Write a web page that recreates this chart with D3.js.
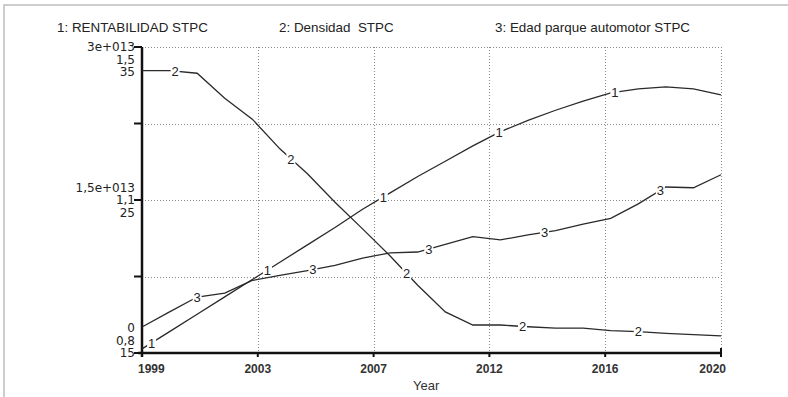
<!DOCTYPE html>
<html lang="en">
<head>
  <meta charset="utf-8" />
  <title>STPC</title>
  <script src="https://d3js.org/d3.v7.min.js"></script>
  <style>
    body { margin: 0; background: #fff; }
    text { font-family: "Liberation Sans", Arial, sans-serif; }
  </style>
</head>

<body>
  <div id="chart"></div>

  <script>
    // data
    var years = [1999, 2000, 2001, 2002, 2003, 2004, 2005, 2006, 2007, 2008, 2009,
                 2010, 2011, 2012, 2013, 2014, 2015, 2016, 2017, 2018, 2019, 2020];

    // 1: RENTABILIDAD STPC
    var rentabilidad = [0.04e13, 0.21e13, 0.38e13, 0.55e13, 0.72e13, 0.89e13, 1.06e13, 1.23e13,
                        1.41e13, 1.57e13, 1.73e13, 1.88e13, 2.03e13, 2.17e13, 2.28e13, 2.38e13,
                        2.47e13, 2.55e13, 2.59e13, 2.61e13, 2.59e13, 2.53e13];
    // 2: Densidad STPC
    var densidad = [1.446, 1.446, 1.44, 1.383, 1.335, 1.267, 1.21, 1.145, 1.084, 1.022, 0.955,
                    0.894, 0.864, 0.864, 0.860, 0.857, 0.857, 0.851, 0.849, 0.845, 0.842, 0.839];
    // 3: Edad parque automotor STPC
    var edad = [16.7, 17.69, 18.66, 18.92, 19.74, 20.07, 20.38, 20.72, 21.2, 21.55, 21.6,
                22.1, 22.6, 22.39, 22.72, 23.0, 23.43, 23.8, 24.75, 25.85, 25.8, 26.65];

    var legendLabels = ["1: RENTABILIDAD STPC", "2: Densidad  STPC", "3: Edad parque automotor STPC"];
    var xTickLabels = ["1999", "2003", "2007", "2012", "2016", "2020"];
    var yLabels1 = ["0", "1,5e+013", "3e+013"];
    var yLabels2 = ["0,8", "1,1", "1,5"];
    var yLabels3 = ["15", "25", "35"];

    var width = 788, height = 397;
    var pLeft = 142, pRight = 721, pTop = 47, pBottom = 353;

    var svg = d3.select("#chart")
                .append("svg")
                .attr("width", width)
                .attr("height", height);

    // light frame (top and left only)
    svg.append("path")
       .attr("d", "M4,397V5H788")
       .attr("fill", "none")
       .attr("stroke", "#bdbdbd")
       .attr("stroke-width", 1.5);

    var x = d3.scaleLinear().domain([1999, 2020]).range([pLeft, pRight]);
    var y1 = d3.scaleLinear().domain([0, 3e13]).range([pBottom, pTop]);
    var y2 = d3.scaleLinear().domain([0.8, 1.5]).range([pBottom, pTop]);
    var y3 = d3.scaleLinear().domain([15, 35]).range([pBottom, pTop]);

    var xTicks = xTickLabels.map(function(d, i) { return 1999 + i * 21 / 5; });
    var yTicks = [0, 0.75e13, 1.5e13, 2.25e13, 3e13];

    // dotted grid
    svg.selectAll(".hgrid")
       .data(yTicks.slice(1))
       .enter()
       .append("line")
       .attr("x1", pLeft).attr("x2", pRight)
       .attr("y1", function(d) { return Math.round(y1(d)) + 0.5; })
       .attr("y2", function(d) { return Math.round(y1(d)) + 0.5; })
       .attr("stroke", "#8a8a8a")
       .attr("stroke-dasharray", "1,2");

    svg.selectAll(".vgrid")
       .data(xTicks.slice(1))
       .enter()
       .append("line")
       .attr("x1", function(d) { return Math.round(x(d)) + 0.5; })
       .attr("x2", function(d) { return Math.round(x(d)) + 0.5; })
       .attr("y1", pTop).attr("y2", pBottom)
       .attr("stroke", "#8a8a8a")
       .attr("stroke-dasharray", "1,2");

    // axes
    var axisCol = "#111";
    svg.append("line")
       .attr("x1", pLeft).attr("x2", pLeft)
       .attr("y1", pTop).attr("y2", pBottom + 4)
       .attr("stroke", axisCol).attr("stroke-width", 2.5);
    svg.append("line")
       .attr("x1", pLeft - 4).attr("x2", pRight)
       .attr("y1", pBottom).attr("y2", pBottom)
       .attr("stroke", axisCol).attr("stroke-width", 2.5);

    svg.selectAll(".ytick")
       .data(yTicks)
       .enter()
       .append("line")
       .attr("x1", pLeft - 8).attr("x2", pLeft)
       .attr("y1", function(d) { return y1(d); })
       .attr("y2", function(d) { return y1(d); })
       .attr("stroke", axisCol).attr("stroke-width", 2);

    svg.selectAll(".xtick")
       .data(xTicks)
       .enter()
       .append("line")
       .attr("x1", function(d) { return x(d); })
       .attr("x2", function(d) { return x(d); })
       .attr("y1", function(d, i) { return i == xTicks.length - 1 ? pBottom - 5 : pBottom; })
       .attr("y2", pBottom + 4)
       .attr("stroke", axisCol).attr("stroke-width", 2);

    svg.selectAll(".xlabel")
       .data(xTickLabels)
       .enter()
       .append("text")
       .attr("x", function(d, i) {
         if (i == 0) return x(xTicks[i]) - 4;
         if (i == xTicks.length - 1) return x(xTicks[i]) + 5;
         return x(xTicks[i]);
       })
       .attr("y", pBottom + 20)
       .attr("text-anchor", function(d, i) {
         return i == 0 ? "start" : (i == xTicks.length - 1 ? "end" : "middle");
       })
       .attr("font-size", 12)
       .attr("font-weight", "bold")
       .attr("fill", "#333")
       .text(function(d) { return d; });

    svg.append("text")
       .attr("x", 413).attr("y", 390)
       .attr("font-size", 13)
       .attr("fill", "#333")
       .text("Year");

    // stacked y labels: one block at bottom, middle and top tick
    var lineGap = 12.5;
    [0, 1, 2].forEach(function(k) {
      var block = [yLabels1[k], yLabels2[k], yLabels3[k]];
      var ty = y1(yTicks[k * 2]);
      var firstY;
      if (k == 0) firstY = ty - 2 * lineGap;      // bottom: last line on tick
      else if (k == 1) firstY = ty - lineGap;     // middle: centre line on tick
      else firstY = ty;                           // top: first line on tick
      svg.selectAll(".yl" + k)
         .data(block)
         .enter()
         .append("text")
         .attr("x", 135)
         .attr("y", function(d, i) { return firstY + i * lineGap; })
         .attr("dy", "0.36em")
         .attr("text-anchor", "end")
         .style("font-family", "'DejaVu Sans', sans-serif")
         .attr("font-size", 12)
         .attr("fill", "#222")
         .text(function(d) { return d; });
    });

    // legend
    var legendX = [57, 279, 495];
    svg.selectAll(".legend")
       .data(legendLabels)
       .enter()
       .append("text")
       .attr("x", function(d, i) { return legendX[i]; })
       .attr("y", 32)
       .attr("font-size", 13.4)
       .attr("fill", "#222")
       .style("white-space", "pre")
       .text(function(d) { return d; });

    // series
    var series = [
      { values: rentabilidad, y: y1, name: "1", start: 1999.35 },
      { values: densidad, y: y2, name: "2", start: 2000.2 },
      { values: edad, y: y3, name: "3", start: 2001.0 }
    ];

    series.forEach(function(s) {
      var line = d3.line()
                   .x(function(d, i) { return x(years[i]); })
                   .y(function(d) { return s.y(d); });
      svg.append("path")
         .datum(s.values)
         .attr("d", line)
         .attr("fill", "none")
         .attr("stroke", "#2a2a2a")
         .attr("stroke-width", 1.3);
    });

    // number markers sitting on each line
    series.forEach(function(s) {
      var interp = d3.scaleLinear().domain(years).range(s.values);
      var at = [0, 1, 2, 3, 4].map(function(k) { return s.start + k * 21 / 5; });
      var g = svg.selectAll(".mk" + s.name)
                 .data(at)
                 .enter()
                 .append("g")
                 .attr("transform", function(t) {
                   return "translate(" + x(t) + "," + s.y(interp(t)) + ")";
                 });
      g.append("rect")
       .attr("x", -4.5).attr("y", -6)
       .attr("width", 9).attr("height", 12)
       .attr("fill", "#fff");
      g.append("text")
       .attr("text-anchor", "middle")
       .attr("dy", "0.36em")
       .attr("font-size", 13)
       .attr("fill", "#222")
       .text(s.name);
    });
  </script>
</body>
</html>
